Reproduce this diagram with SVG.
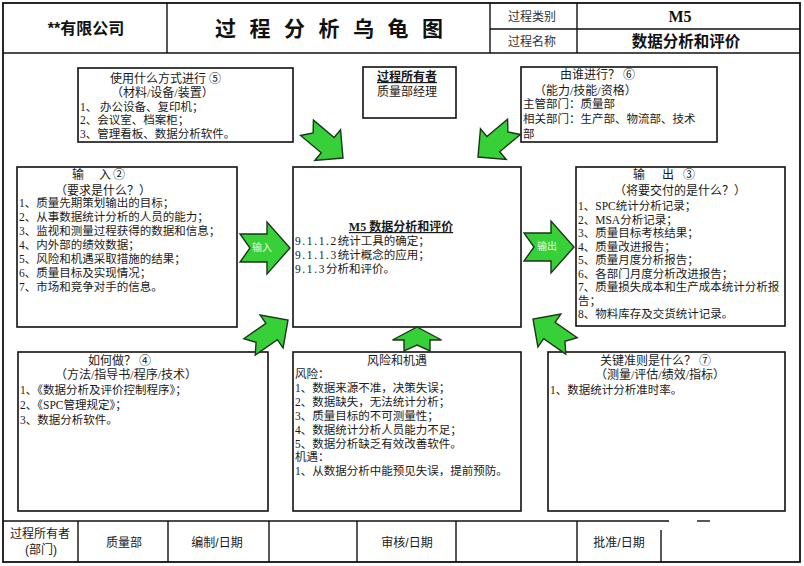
<svg xmlns="http://www.w3.org/2000/svg" xmlns:xlink="http://www.w3.org/1999/xlink" width="804" height="566" viewBox="0 0 804 566">
<style>
.frame{fill:none;stroke:#111;stroke-width:1.8}
.ln{stroke:#111;stroke-width:1.4;fill:none}
.box{fill:#fff;stroke:#111;stroke-width:1.6}
.t{font-family:"Liberation Serif","Noto Sans CJK SC",serif;font-size:11.5px;fill:#1a1a1a}
.tt{font-family:"Liberation Serif","Noto Sans CJK SC",serif;font-size:12px;fill:#1a1a1a}
.c{text-anchor:middle}
.b{font-weight:bold}
.u{text-decoration:underline}
.hs{font-family:"Liberation Sans","Noto Sans CJK SC",sans-serif}
.lab{font-family:"Noto Sans CJK SC",sans-serif;font-size:10px;fill:#e8ffe8;text-anchor:middle}
.arrow{fill:#38d038;stroke:#1a351a;stroke-width:1.4;stroke-linejoin:miter}
.num{letter-spacing:1.6px}
</style>
<defs>
<path id="bigArrow" d="M-50,-14 L-23,-14 L-23,-26 L0,0 L-23,26 L-23,14 L-50,14 L-40,0 Z"/>
<path id="smallArrow" d="M-47,-10 L-20,-10 L-20,-20 L0,0 L-20,20 L-20,10 L-47,10 L-39,0 Z"/>
<path id="upArrow" d="M-24,-13 L-13,-13 L-13,-24.5 L0,0 L-13,24.5 L-13,13 L-24,13 L-18,0 Z"/>
</defs>
<rect x="0" y="0" width="804" height="566" fill="#fff"/>

<g id="header">
<rect class="frame" x="3" y="3" width="797" height="559"/>
<line class="ln" x1="3" y1="53" x2="800" y2="53"/>
<line class="ln" x1="167" y1="3" x2="167" y2="53"/>
<line class="ln" x1="490" y1="3" x2="490" y2="53"/>
<line class="ln" x1="577" y1="3" x2="577" y2="53"/>
<line class="ln" x1="490" y1="29" x2="800" y2="29"/>
<text class="hs b" x="86" y="34" font-size="16" text-anchor="middle" fill="#111">**有限公司</text>
<text class="hs b" x="215" y="36" font-size="21" letter-spacing="13.5" fill="#111">过程分析乌龟图</text>
<text class="hs" x="532" y="21" font-size="12" text-anchor="middle" fill="#333">过程类别</text>
<text class="hs" x="532" y="46" font-size="12" text-anchor="middle" fill="#333">过程名称</text>
<text x="680" y="22" font-family="Liberation Serif,serif" font-weight="bold" font-size="16" text-anchor="middle" fill="#111">M5</text>
<text class="hs b" x="686" y="47" font-size="15.5" text-anchor="middle" fill="#111">数据分析和评价</text>
</g>

<g id="footer">
<line class="ln" x1="3" y1="521" x2="669" y2="521"/>
<line class="ln" x1="697" y1="521" x2="710" y2="521"/>
<line class="ln" x1="78" y1="521" x2="78" y2="562"/>
<line class="ln" x1="168" y1="521" x2="168" y2="562"/>
<line class="ln" x1="269" y1="521" x2="269" y2="562"/>
<line class="ln" x1="357" y1="521" x2="357" y2="562"/>
<line class="ln" x1="456" y1="521" x2="456" y2="562"/>
<line class="ln" x1="577" y1="521" x2="577" y2="562"/>
<line class="ln" x1="661" y1="530" x2="661" y2="562"/>
<text class="tt hs c" x="40" y="538" fill="#333">过程所有者</text>
<text class="tt hs c" x="41" y="554" fill="#333">(部门)</text>
<text class="tt hs c" x="124" y="547" fill="#333">质量部</text>
<text class="tt hs c" x="217" y="547" fill="#333">编制/日期</text>
<text class="tt hs c" x="407" y="547" fill="#333">审核/日期</text>
<text class="tt hs c" x="619" y="547" fill="#333">批准/日期</text>
</g>

<g id="node-resources">
<rect class="box" x="78" y="68" width="215" height="74"/>
<text class="tt" x="110" y="83">使用什么方式进行 ⑤</text>
<text class="tt" x="111" y="97">（材料/设备/装置）</text>
<text class="t" x="80" y="110.5">1、  办公设备、复印机；</text>
<text class="t" x="80" y="124">2、会议室、档案柜；</text>
<text class="t" x="80" y="137.5">3、管理看板、数据分析软件。</text>
</g>

<g id="node-owner">
<rect class="box" x="363" y="67" width="93" height="51"/>
<text class="tt b u c" x="407" y="81">过程所有者</text>
<text class="tt c" x="407" y="96">质量部经理</text>
</g>

<g id="node-who">
<rect class="box" x="521" y="67" width="196" height="75"/>
<text class="tt" x="560" y="79">由谁进行？ ⑥</text>
<text class="tt" x="534" y="95">（能力/技能/资格）</text>
<text class="t" x="523" y="108">主管部门：质量部</text>
<text class="t" x="523" y="123">相关部门：生产部、物流部、技术</text>
<text class="t" x="523" y="138">部</text>
</g>

<g id="node-input">
<rect class="box" x="17" y="167" width="220" height="160"/>
<text class="tt" y="179"><tspan x="72">输</tspan><tspan x="99">入</tspan><tspan x="113">②</tspan></text>
<text class="tt" x="55" y="195">（要求是什么？）</text>
<text class="t" x="19" y="207">1、质量先期策划输出的目标；</text>
<text class="t" x="19" y="221">2、从事数据统计分析的人员的能力；</text>
<text class="t" x="19" y="235">3、监视和测量过程获得的数据和信息；</text>
<text class="t" x="19" y="249">4、内外部的绩效数据；</text>
<text class="t" x="19" y="263">5、风险和机遇采取措施的结果；</text>
<text class="t" x="19" y="277">6、质量目标及实现情况；</text>
<text class="t" x="19" y="291">7、市场和竞争对手的信息。</text>
</g>

<g id="node-process">
<rect class="box" x="293" y="167" width="228" height="160"/>
<text class="tt b u c" x="401" y="231">M5 数据分析和评价</text>
<text class="t" x="295" y="245"><tspan class="num">9.1.1.2</tspan>统计工具的确定；</text>
<text class="t" x="295" y="259"><tspan class="num">9.1.1.3</tspan>统计概念的应用；</text>
<text class="t" x="295" y="273"><tspan class="num">9.1.3</tspan>分析和评价。</text>
</g>

<g id="node-output">
<rect class="box" x="576" y="167" width="209" height="159"/>
<text class="tt" y="179"><tspan x="633">输</tspan><tspan x="662">出</tspan><tspan x="683">③</tspan></text>
<text class="tt" x="614" y="195">（将要交付的是什么？）</text>
<text class="t" x="578" y="210">1、SPC统计分析记录；</text>
<text class="t" x="578" y="223.5">2、MSA分析记录；</text>
<text class="t" x="578" y="237">3、质量目标考核结果；</text>
<text class="t" x="578" y="250.5">4、质量改进报告；</text>
<text class="t" x="578" y="264">5、质量月度分析报告；</text>
<text class="t" x="578" y="277.5">6、各部门月度分析改进报告；</text>
<text class="t" x="578" y="291">7、质量损失成本和生产成本统计分析报</text>
<text class="t" x="578" y="304.5">告；</text>
<text class="t" x="578" y="318">8、物料库存及交货统计记录。</text>
</g>

<g id="node-method">
<rect class="box" x="18" y="352" width="250" height="159"/>
<text class="tt" x="88" y="365">如何做？ ④</text>
<text class="tt" x="55" y="379">（方法/指导书/程序/技术）</text>
<text class="t" x="20" y="394">1、《数据分析及评价控制程序》；</text>
<text class="t" x="20" y="409">2、《SPC管理规定》；</text>
<text class="t" x="20" y="424">3、数据分析软件。</text>
</g>

<g id="node-risk">
<rect class="box" x="293" y="352" width="228" height="159"/>
<text class="tt c" x="397" y="365">风险和机遇</text>
<text class="t" x="295" y="378">风险：</text>
<text class="t" x="295" y="392">1、数据来源不准，决策失误；</text>
<text class="t" x="295" y="406">2、数据缺失，无法统计分析；</text>
<text class="t" x="295" y="420">3、质量目标的不可测量性；</text>
<text class="t" x="295" y="434">4、数据统计分析人员能力不足；</text>
<text class="t" x="295" y="447.5">5、数据分析缺乏有效改善软件。</text>
<text class="t" x="295" y="461">机遇：</text>
<text class="t" x="295" y="475">1、从数据分析中能预见失误，提前预防。</text>
</g>

<g id="node-criteria">
<rect class="box" x="548" y="352" width="237" height="159"/>
<text class="tt" x="600" y="365">关键准则是什么？ ⑦</text>
<text class="tt" x="595" y="379">（测量/评估/绩效/指标）</text>
<text class="t" x="550" y="394">1、数据统计分析准时率。</text>
</g>

<g id="connectors">
<use xlink:href="#bigArrow" href="#bigArrow" class="arrow" transform="translate(290,248)"/>
<text class="lab" x="262" y="251">输入</text>
<use xlink:href="#bigArrow" href="#bigArrow" class="arrow" transform="translate(574,247)"/>
<text class="lab" x="547" y="250">输出</text>
<use xlink:href="#smallArrow" href="#smallArrow" class="arrow" transform="translate(343,158) rotate(40)"/>
<use xlink:href="#smallArrow" href="#smallArrow" class="arrow" transform="translate(478,157) rotate(140)"/>
<use xlink:href="#smallArrow" href="#smallArrow" class="arrow" transform="translate(288,320) rotate(-35)"/>
<use xlink:href="#smallArrow" href="#smallArrow" class="arrow" transform="translate(533,319) rotate(-145)"/>
<use xlink:href="#upArrow" href="#upArrow" class="arrow" transform="translate(417,327) rotate(-90)"/>
</g>
</svg>
